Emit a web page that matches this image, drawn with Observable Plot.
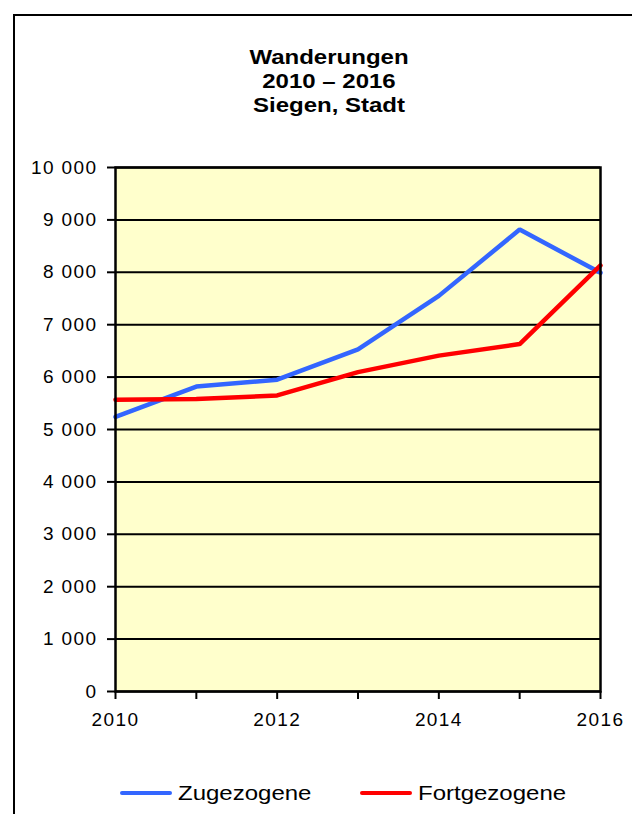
<!DOCTYPE html>
<html>
<head>
<meta charset="utf-8">
<script src="https://cdn.jsdelivr.net/npm/d3@7"></script>
<script src="https://cdn.jsdelivr.net/npm/@observablehq/plot@0.6"></script>
<style>
  html, body { margin: 0; padding: 0; background: #fff; overflow: hidden; width: 632px; height: 814px; }
  #wrap { position: relative; width: 632px; height: 814px; font-family: "Liberation Sans", Arial, sans-serif; }
  #border { position: absolute; left: 13px; top: 14px; width: 700px; height: 900px; border: 2px solid #000; box-sizing: border-box; }
  #title { position: absolute; left: 179px; width: 300px; top: 45px; text-align: center; font-weight: bold; font-size: 20px; line-height: 24px; color: #000; transform: scaleX(1.2); transform-origin: 150px 0; }
  #chart { position: absolute; left: 0; top: 0; }
  #chart svg text { letter-spacing: 1.4px; }
  #legend { position: absolute; top: 781px; left: 0; width: 632px; height: 24px; font-size: 20px; color: #000; }
  .item { position: absolute; top: 0; display: flex; align-items: center; height: 24px; }
  .sw { width: 52px; height: 4px; border-radius: 2px; margin-right: 6px; }
  .lbl { display: inline-block; transform: scaleX(1.2); transform-origin: 0 50%; }
</style>
</head>
<body>
<div id="wrap">
  <div id="border"></div>
  <div id="chart"></div>
  <div id="title">Wanderungen<br>2010 – 2016<br>Siegen, Stadt</div>
  <div id="legend"></div>
</div>
<script>
const years = [2010, 2011, 2012, 2013, 2014, 2015, 2016];
const zugezogene = [5240, 5820, 5950, 6530, 7550, 8815, 7990];
const fortgezogene = [5570, 5580, 5650, 6095, 6410, 6630, 8130];
const seriesNames = ["Zugezogene", "Fortgezogene"];
const seriesColors = ["#3366FF", "#FF0000"];
const yTicks = [0, 1000, 2000, 3000, 4000, 5000, 6000, 7000, 8000, 9000, 10000];
const xTickLabels = {2010: "2010", 2012: "2012", 2014: "2014", 2016: "2016"};

const data = [];
years.forEach((y, i) => {
  data.push({year: y, value: zugezogene[i], series: seriesNames[0]});
  data.push({year: y, value: fortgezogene[i], series: seriesNames[1]});
});

const fmt = v => d3.format(",")(v).replace(/,/g, " ");

const chart = Plot.plot({
  width: 632,
  height: 814,
  marginLeft: 115,
  marginRight: 32,
  marginTop: 167,
  marginBottom: 123,
  style: { fontFamily: "'Liberation Sans', Arial, sans-serif", fontSize: "19px", color: "#000", background: "transparent" },
  x: { domain: [2010, 2016] },
  y: { domain: [0, 10000] },
  color: { domain: seriesNames, range: seriesColors },
  marks: [
    Plot.frame({ fill: "#FFFFCC", stroke: null }),
    Plot.ruleY(yTicks, { stroke: "#000", strokeWidth: 2 }),
    Plot.line(data, { x: "year", y: "value", z: "series", stroke: "series", strokeWidth: 4.5, strokeLinejoin: "miter" }),
    Plot.frame({ stroke: "#000", strokeWidth: 2.5 }),
    Plot.axisY({ ticks: yTicks, tickFormat: fmt, tickSize: 8, tickPadding: 10, strokeWidth: 2, label: null, fontSize: 19 }),
    Plot.axisX({ ticks: years, tickFormat: d => xTickLabels[d] || "", tickSize: 8, tickPadding: 13, strokeWidth: 2, label: null, fontSize: 19 })
  ]
});
document.getElementById("chart").appendChild(chart);

const legend = document.getElementById("legend");
const lx = [120, 360];
seriesNames.forEach((n, i) => {
  const it = document.createElement("div");
  it.className = "item";
  it.style.left = lx[i] + "px";
  const sw = document.createElement("div");
  sw.className = "sw";
  sw.style.background = seriesColors[i];
  const t = document.createElement("span");
  t.className = "lbl";
  t.textContent = n;
  it.appendChild(sw); it.appendChild(t);
  legend.appendChild(it);
});
</script>
</body>
</html>
